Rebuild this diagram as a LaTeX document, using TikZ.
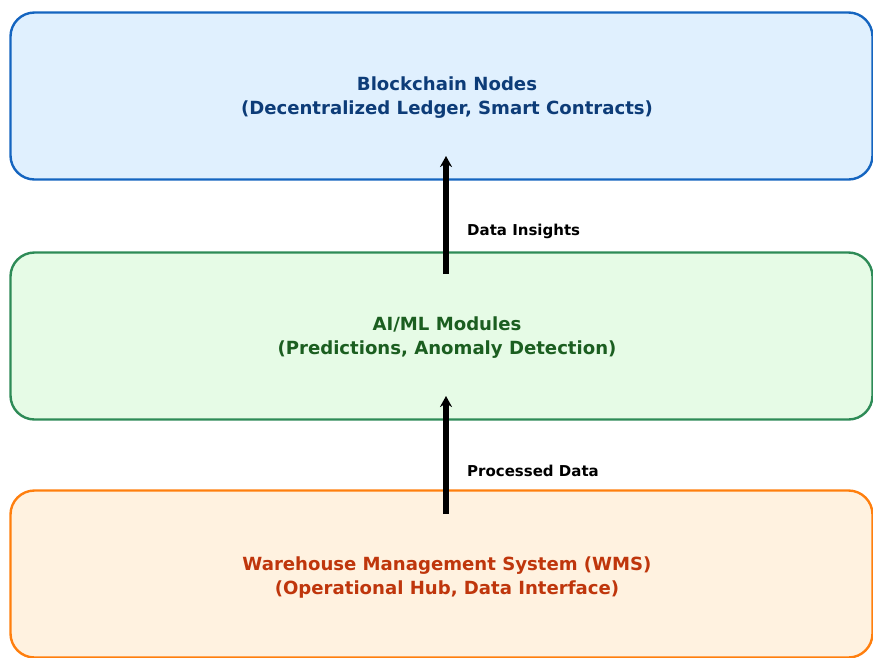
\documentclass[tikz,border=0pt]{standalone}
\usepackage{fontspec}
\setmainfont{DejaVu Sans}
\usetikzlibrary{arrows.meta}
\definecolor{bfill}{HTML}{E0F0FE}
\definecolor{bdraw}{HTML}{1565C0}
\definecolor{btext}{HTML}{0D3C78}
\definecolor{gfill}{HTML}{E6FBE6}
\definecolor{gdraw}{HTML}{2E8B57}
\definecolor{gtext}{HTML}{1B5E20}
\definecolor{ofill}{HTML}{FFF2E0}
\definecolor{odraw}{HTML}{FF7F0E}
\definecolor{otext}{HTML}{BF360C}
\tikzset{
  layer/.style={rounded corners=24pt, line width=2.4pt, minimum width=862pt, minimum height=167pt, inner sep=0pt},
  ltext/.style={align=center, font=\bfseries\fontsize{18.1}{24}\selectfont, inner sep=0pt},
  flow/.style={line width=5.5pt, -{Stealth[length=11pt,width=12pt]}},
  lbl/.style={font=\bfseries\fontsize{15}{18}\selectfont, anchor=west, inner sep=0pt}
}
\begin{document}
\begin{tikzpicture}[x=1pt,y=-1pt]
\useasboundingbox (0,0) rectangle (873,657);
\node[layer, draw=bdraw, fill=bfill] (bc) at (441.5,96) {};
\node[layer, draw=gdraw, fill=gfill] (ai) at (441.5,336) {};
\node[layer, draw=odraw, fill=ofill] (wms) at (441.5,574) {};
\node[ltext, text=btext] (bct) at (447,98) {Blockchain Nodes\\(Decentralized Ledger, Smart Contracts)};
\node[ltext, text=gtext] (ait) at (447,338) {AI/ML Modules\\(Predictions, Anomaly Detection)};
\node[ltext, text=otext] (wmst) at (447,577) {Warehouse Management System (WMS)\\(Operational Hub, Data Interface)};
\coordinate (a1s) at (446,274);
\coordinate (a1e) at (446,156);
\coordinate (a2s) at (446,514);
\coordinate (a2e) at (446,396);
\draw[flow] (a1s) -- (a1e);
\draw[flow] (a2s) -- (a2e);
\node[lbl] (l1) at (467,231) {Data Insights};
\node[lbl] (l2) at (467,471) {Processed Data};
\end{tikzpicture}
\end{document}
